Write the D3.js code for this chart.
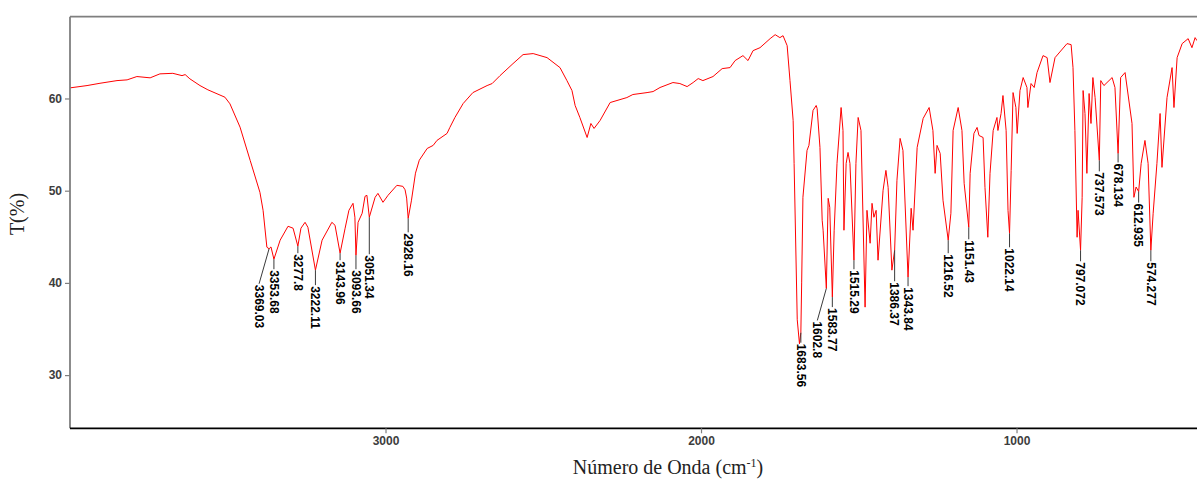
<!DOCTYPE html>
<meta charset="utf-8">
<style>
body { margin: 0; background: #fff; }
.tick text { font-family: "Liberation Sans", Arial, sans-serif; font-size: 12px; font-weight: bold; fill: #3d3d3d; }
.peak text { font-family: "Liberation Sans", Arial, sans-serif; font-size: 12px; font-weight: bold; fill: #000; }
.title { font-family: "Liberation Serif", "Times New Roman", serif; font-size: 20px; fill: #222; }
</style>
<body>
<script src="https://d3js.org/d3.v7.min.js"></script>
<script>

var width = 1197
var height = 480

// spectrum (cm-1 / T%)
var wavenumber = [4000, 3946, 3905, 3851, 3819, 3788, 3746, 3715, 3674, 3645, 3635, 3620, 3588, 3563, 3509, 3493, 3461, 3429,
  3398, 3388, 3376, 3369.03, 3363, 3353.68, 3334, 3309, 3293, 3277.8, 3268, 3255, 3246, 3222.11, 3201, 3170, 3160, 3143.96,
  3128, 3116, 3103, 3097, 3093.66, 3087, 3074, 3065, 3059, 3051.34, 3033, 3024, 3008, 2992, 2964, 2945, 2938, 2933, 2928.16,
  2918, 2905, 2893, 2868, 2849, 2837, 2805, 2796, 2780, 2754, 2723, 2678, 2662, 2637, 2596, 2564, 2532, 2488, 2447, 2425,
  2409, 2399, 2384, 2361, 2349, 2339, 2320, 2288, 2235, 2216, 2171, 2152, 2130, 2089, 2067, 2044, 2025, 2009, 1994, 1962,
  1933, 1908, 1892, 1867, 1851, 1835, 1813, 1781, 1765, 1750, 1740, 1727, 1718, 1708, 1705, 1695, 1688, 1683.56, 1681, 1677,
  1664, 1658, 1645, 1635, 1632, 1623, 1616, 1613, 1602.8, 1597, 1592, 1583.77, 1578, 1569, 1556, 1550, 1547, 1540, 1534,
  1528, 1515.29, 1509, 1502, 1493, 1480, 1474, 1464, 1458, 1452, 1445, 1439, 1423, 1414, 1407, 1395, 1386.37, 1379, 1369,
  1360, 1343.84, 1334, 1328, 1315, 1296, 1277, 1265, 1258, 1252, 1242, 1233, 1216.52, 1208, 1201, 1185, 1173, 1166, 1151.43,
  1147, 1135, 1125, 1119, 1106, 1100, 1091, 1084, 1074, 1062, 1059, 1049, 1043, 1033, 1027, 1022.14, 1017, 1011, 1002, 998,
  989, 979, 967, 964, 954, 944, 935, 916, 903, 894, 878, 840, 827, 821, 815, 808, 805, 797.072, 792, 789, 783, 777, 770, 764,
  758, 751, 737.573, 733, 723, 697, 688, 678.134, 670, 656, 634, 628, 621, 612.935, 605, 593, 583, 574.277, 567, 555, 545,
  539, 523, 507, 501, 491, 475, 456, 444, 434, 428]

var transmittance = [61.15, 61.4, 61.65, 61.94, 62.02, 62.38, 62.24, 62.67, 62.73, 62.48, 62.59, 62.13, 61.4, 60.94, 60.14, 59.42, 56.89, 53.29,
  49.82, 47.87, 43.87, 43.7, 43.9, 42.57, 44.63, 46.14, 45.93, 43.98, 45.93, 46.57, 46.03, 41.38, 44.63, 46.57, 46.25, 43.22,
  45.93, 47.87, 48.63, 47.12, 43.0, 46.57, 47.55, 49.39, 49.5, 47.12, 49.28, 49.71, 48.74, 49.5, 50.58, 50.47, 50.1, 49.2, 47.0,
  48.9, 51.9, 53.3, 54.58, 54.91, 55.45, 56.21, 56.86, 57.94, 59.45, 60.64, 61.4, 61.62, 62.48, 63.78, 64.76, 64.87, 64.43, 63.35, 61.94,
  60.86, 59.24, 57.94, 55.77, 57.29, 56.75, 57.61, 59.56, 60.1, 60.43, 60.64, 60.75, 61.19, 61.73, 61.62, 61.29, 61.73, 62.16, 61.94, 62.38,
  63.24, 63.35, 64.11, 64.65, 64.11, 65.19, 65.51, 66.49, 66.92, 66.6, 66.81, 65.73, 61.94, 57.61, 52.96, 36.0, 33.4, 34.6, 40.0, 49.28,
  54.37, 54.91, 58.7, 59.24, 58.91, 54.69, 46.79, 45.71, 39.4, 49.17, 48.2, 38.46, 45.71, 52.96, 59.02, 56.53, 45.71, 52.96, 54.15,
  52.96, 42.46, 52.96, 57.94, 56.53, 37.37, 47.87, 44.3, 48.63, 47.12, 47.87, 42.46, 50.04, 52.2, 50.36, 41.38, 43.54, 51.12, 55.67,
  54.37, 40.62, 48.09, 45.71, 54.69, 57.83, 59.02, 56.53, 51.88, 54.91, 54.04, 48.96, 44.63, 47.55, 56.53, 59.02, 56.53, 50.8, 46.03,
  51.88, 56.21, 56.86, 55.99, 55.77, 50.36, 44.95, 51.88, 56.53, 57.94, 56.53, 58.37, 60.32, 56.53, 47.87, 45.38, 52.2, 60.64, 59.02, 56.21,
  60.86, 62.27, 61.19, 59.02, 61.62, 61.19, 62.81, 64.65, 64.43, 61.73, 64.43, 65.95, 65.84, 63.35, 56.53, 44.95, 47.87, 43.54, 49.28, 60.86, 58.37, 51.88, 60.54, 57.29,
  62.27, 60.1, 53.29, 61.94, 61.4, 62.27, 61.19, 54.04, 62.27, 62.81, 57.29, 49.28, 50.4, 49.9, 52.96, 55.45, 52.96, 43.54, 47.55, 52.96, 58.37,
  52.53, 60.1, 63.35, 59.02, 64.43, 65.95, 66.49, 65.51, 66.6, 66.27]

// labelled peaks
var peakWavenumber = [3369.03, 3353.68, 3277.8, 3222.11, 3143.96, 3093.66, 3051.34, 2928.16, 1683.56, 1602.8, 1583.77,
  1515.29, 1386.37, 1343.84, 1216.52, 1151.43, 1022.14, 797.072, 737.573, 678.134, 612.935, 574.277]
var peakTransmittance = [43.7, 42.57, 43.98, 41.38, 43.22, 43.0, 47.12, 47.0, 34.6, 39.4, 38.46,
  42.46, 43.54, 40.62, 44.63, 46.03, 45.38, 43.54, 53.29, 54.04, 49.9, 43.54]

var xTicks = [3000, 2000, 1000]
var yTicks = [30, 40, 50, 60]

// label offsets (px) from the peak, like a repel layout
var labelDx = [-10, 0, 0, 0, 0, 0, 0, 0, 0, -9, 0, 0, 0, 0, 0, 0, 0, 0, 0, 0, 0, 0]
var labelDy = [36, 11, 8, 16, 8, 15, 38, 15, 11, 33, 11, 10, 32, 10, 14, 13, 15, 12, 12, 10, 12, 12]

var plotLeft = 70, plotRight = 1197, plotTop = 16.7, plotBottom = 428.3

var svg = d3.select("body").append("svg")
    .attr("width", width)
    .attr("height", height)

var x = d3.scaleLinear().domain([4000, 428]).range([plotLeft, plotRight])
var y = d3.scaleLinear().domain([24.23, 68.87]).range([plotBottom, plotTop])

svg.append("clipPath").attr("id", "clip")
  .append("rect")
    .attr("x", plotLeft).attr("y", plotTop)
    .attr("width", plotRight - plotLeft).attr("height", plotBottom - plotTop)

var spectrum = wavenumber.map(function(w, i) { return [w, transmittance[i]] })

var line = d3.line()
    .x(function(d) { return x(d[0]) })
    .y(function(d) { return y(d[1]) })

svg.append("path")
    .datum(spectrum)
    .attr("clip-path", "url(#clip)")
    .attr("fill", "none")
    .attr("stroke", "#ff0000")
    .attr("stroke-width", 1)
    .attr("stroke-linejoin", "round")
    .attr("d", line)

// frame: grey top and left, black bottom
svg.append("line")
    .attr("x1", plotLeft).attr("x2", plotRight)
    .attr("y1", plotTop).attr("y2", plotTop)
    .attr("stroke", "#7f7f7f").attr("stroke-width", 1.8)

var yAxis = svg.append("g")
    .attr("transform", "translate(" + plotLeft + ",0)")
    .call(d3.axisLeft(y).tickValues(yTicks).tickSize(5).tickPadding(3).tickFormat(d3.format("d")))
yAxis.select(".domain").attr("stroke", "#7f7f7f").attr("stroke-width", 1.8)
    .attr("d", "M0," + plotTop + "V" + plotBottom)
yAxis.selectAll(".tick line").attr("stroke", "#7f7f7f").attr("stroke-width", 1.2)

var xAxis = svg.append("g")
    .attr("transform", "translate(0," + plotBottom + ")")
    .call(d3.axisBottom(x).tickValues(xTicks).tickSize(5).tickPadding(3).tickFormat(d3.format("d")))
xAxis.select(".domain").attr("stroke", "#000").attr("stroke-width", 1.8)
    .attr("d", "M" + plotLeft + ",0H" + plotRight)
xAxis.selectAll(".tick line").attr("stroke", "#7f7f7f").attr("stroke-width", 1.2)

// peak labels
var peaks = svg.append("g").attr("class", "peak")
peakWavenumber.forEach(function(w, i) {
  var px = x(w), py = y(peakTransmittance[i])
  var lx = px + labelDx[i], ly = py + labelDy[i]
  peaks.append("line")
      .attr("x1", px).attr("y1", py)
      .attr("x2", lx).attr("y2", ly - 1)
      .attr("stroke", "#3a3a3a")
      .attr("stroke-width", 1)
  peaks.append("text")
      .attr("transform", "translate(" + lx + "," + ly + ") rotate(90)")
      .attr("dy", "0.35em")
      .attr("text-anchor", "start")
      .text(String(w))
})

// axis titles
svg.append("text")
    .attr("class", "title")
    .attr("transform", "translate(24,214) rotate(-90)")
    .attr("text-anchor", "middle")
    .text("T(%)")

var xt = svg.append("text")
    .attr("class", "title")
    .attr("x", 668)
    .attr("y", 474)
    .attr("text-anchor", "middle")
xt.append("tspan").text("Número de Onda (cm")
xt.append("tspan").attr("dy", "-7").attr("font-size", "12px").text("-1")
xt.append("tspan").attr("dy", "7").text(")")

</script>
